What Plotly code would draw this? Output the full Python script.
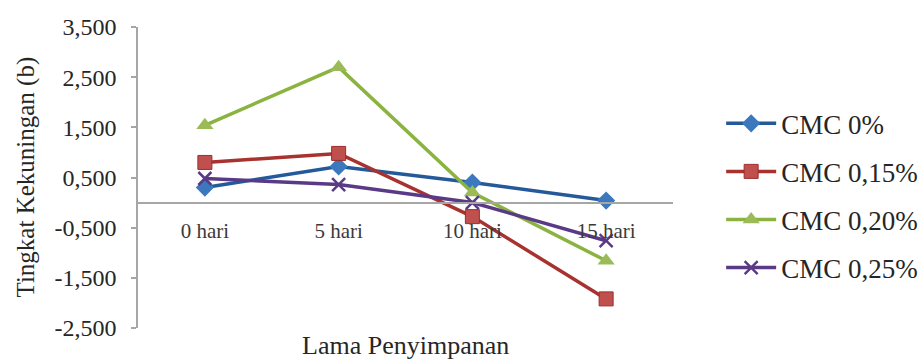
import plotly.graph_objects as go

# Storage time (categories) and yellowness values (b) per CMC level
days = ["0 hari", "5 hari", "10 hari", "15 hari"]
cmc_0 = [0.30, 0.72, 0.40, 0.04]
cmc_015 = [0.80, 0.98, -0.28, -1.92]
cmc_020 = [1.54, 2.70, 0.20, -1.16]
cmc_025 = [0.48, 0.36, 0.00, -0.76]

series_names = ["CMC 0%", "CMC 0,15%", "CMC 0,20%", "CMC 0,25%"]
y_ticks = [-2.5, -1.5, -0.5, 0.5, 1.5, 2.5, 3.5]
y_tick_text = ["-2,500", "-1,500", "-0,500", "0,500", "1,500", "2,500", "3,500"]

FONT = "Liberation Serif, serif"
styles = [
    dict(line="#24599A", marker=dict(symbol="diamond", size=14, color="#3B78BE")),
    dict(line="#A8322F", marker=dict(symbol="square", size=14, color="#C0504D",
                                     line=dict(color="#9C2E2B", width=1))),
    dict(line="#8AB340", marker=dict(symbol="triangle-up", size=15, color="#9BBB59")),
    dict(line="#5A3A86", marker=dict(symbol="x-thin-open", size=13,
                                     line=dict(color="#5A3A86", width=2.5))),
]

fig = go.Figure()
for name, vals, st in zip(series_names, [cmc_0, cmc_015, cmc_020, cmc_025], styles):
    fig.add_trace(go.Scatter(
        x=days, y=vals, name=name, mode="lines+markers",
        line=dict(color=st["line"], width=3.5),
        marker=st["marker"], legendgroup=name,
    ))

fig.update_layout(
    width=922, height=363,
    margin=dict(l=138, r=249, t=27, b=35, autoexpand=False),
    paper_bgcolor="white", plot_bgcolor="white",
    font=dict(family=FONT, color="#262626"),
    showlegend=True,
    legend=dict(
        x=1.09, y=0.76, xanchor="left", yanchor="top",
        font=dict(family=FONT, size=27, color="#262626"),
        tracegroupgap=10, itemwidth=50,
        bgcolor="rgba(0,0,0,0)",
    ),
    xaxis=dict(
        type="category", range=[-0.5, 3.5],
        anchor="free", position=2.5 / 6,
        showline=True, linecolor="#A6A6A6", linewidth=1.5,
        ticks="", showgrid=False, zeroline=False,
        tickfont=dict(family=FONT, size=21, color="#3A3A3A"),
        ticklabelstandoff=9,
    ),
    yaxis=dict(
        range=[-2.5, 3.5], tickvals=y_ticks, ticktext=y_tick_text,
        showline=True, linecolor="#A6A6A6", linewidth=1.5,
        ticks="outside", ticklen=5, tickcolor="#A6A6A6", tickwidth=1.5,
        showgrid=False, zeroline=False,
        tickfont=dict(family=FONT, size=24, color="#262626"),
        ticklabelstandoff=10,
    ),
    annotations=[
        dict(text="Tingkat Kekuningan (b)", xref="paper", yref="paper",
             x=(25 - 138) / 535, y=0.5, xanchor="center", yanchor="middle",
             textangle=-90, showarrow=False,
             font=dict(family=FONT, size=25, color="#262626")),
        dict(text="Lama Penyimpanan", xref="paper", yref="paper",
             x=0.5, y=(328 - 345) / 301, xanchor="center", yanchor="middle",
             showarrow=False,
             font=dict(family=FONT, size=26, color="#262626")),
    ],
)

fig.write_html("out.html")
